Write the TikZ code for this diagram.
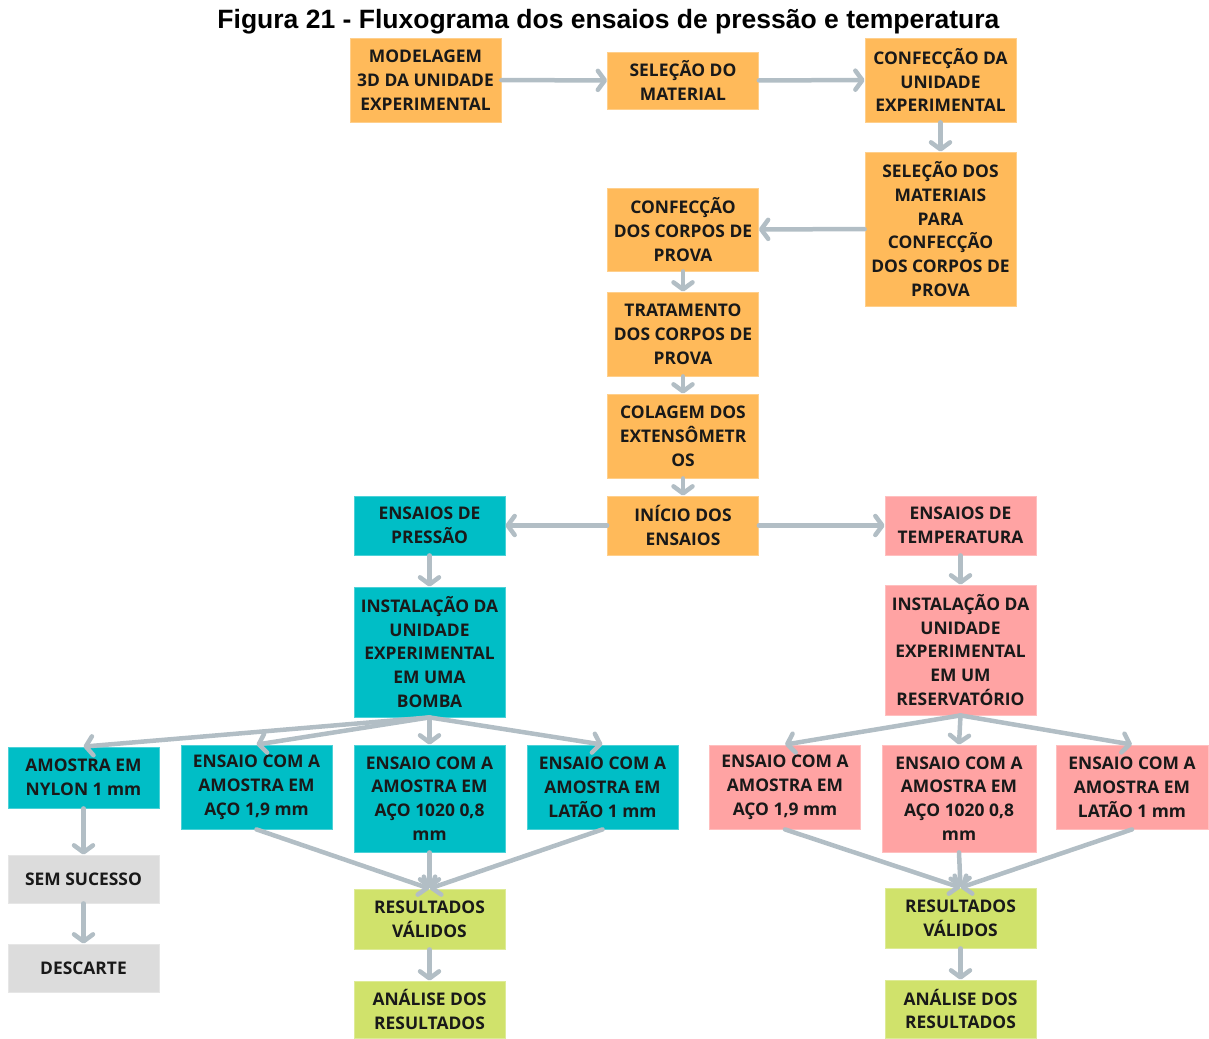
\documentclass[tikz,border=0pt]{standalone}
\usepackage{fontspec}
\usetikzlibrary{arrows.meta}
\newfontfamily\boxfont{Open Sans}
\newfontfamily\titlefont{Liberation Sans}
\definecolor{boxorange}{HTML}{FFBA5A}
\definecolor{boxteal}{HTML}{00BEC6}
\definecolor{boxpink}{HTML}{FFA3A3}
\definecolor{boxgreen}{HTML}{D0E26B}
\definecolor{boxgray}{HTML}{DCDCDC}
\definecolor{linkgray}{HTML}{B2BEC5}
\tikzset{
  stage/.style={rectangle, inner sep=0pt, align=center, minimum width=151pt,
    font=\boxfont\bfseries\fontsize{17.4}{23.8}\selectfont, text=black!90},
  orange/.style={stage, fill=boxorange, draw=boxorange!70!white, line width=0.8pt},
  teal/.style={stage, fill=boxteal, draw=boxteal!70!white, line width=0.8pt},
  pink/.style={stage, fill=boxpink, draw=boxpink!70!white, line width=0.8pt},
  green/.style={stage, fill=boxgreen, draw=boxgreen!70!white, line width=0.8pt},
  gray/.style={stage, fill=boxgray, draw=boxgray!70!white, line width=0.8pt},
  link/.style={draw=linkgray, line width=4.5pt, line cap=round,
    -{Straight Barb[length=7pt, width=19pt, line cap=round, line join=round]}},
}
\begin{document}
\begin{tikzpicture}[x=1pt, y=-1pt]
\useasboundingbox (0,0) rectangle (1209,1038);

\node[font=\titlefont\bfseries\fontsize{26.5}{30}\selectfont] (title) at (608.5,21.5)
  {Figura 21 - Fluxograma dos ensaios de pressão e temperatura};

% preparation chain
\node[orange, minimum height=84pt] (model) at (425.5,80) {MODELAGEM\\3D DA UNIDADE\\EXPERIMENTAL};
\node[orange, minimum height=57pt] (selmat) at (683,80.5) {SELEÇÃO DO\\MATERIAL};
\node[orange, minimum height=84pt] (confunid) at (940.5,80) {CONFECÇÃO DA\\UNIDADE\\EXPERIMENTAL};
\node[orange, minimum height=154pt] (selcp) at (940.5,229) {SELEÇÃO DOS\\MATERIAIS\\PARA\\CONFECÇÃO\\DOS CORPOS DE\\PROVA};
\node[orange, minimum height=83pt] (confcp) at (683,229.5) {CONFECÇÃO\\DOS CORPOS DE\\PROVA};
\node[orange, minimum height=84pt] (trat) at (683,334) {TRATAMENTO\\DOS CORPOS DE\\PROVA};
\node[orange, minimum height=84pt] (colag) at (683,436) {COLAGEM DOS\\EXTENSÔMETR\\OS};
\node[orange, minimum height=59pt] (inicio) at (683,525.5) {INÍCIO DOS\\ENSAIOS};

% pressure branch
\node[teal, minimum height=59pt] (press) at (429.5,525.5) {ENSAIOS DE\\PRESSÃO};
\node[teal, minimum height=130pt] (instp) at (429.5,652) {INSTALAÇÃO DA\\UNIDADE\\EXPERIMENTAL\\EM UMA\\BOMBA};
\node[teal, minimum height=61pt] (nylon) at (83.5,777.5) {AMOSTRA EM\\NYLON 1 mm};
\node[teal, minimum height=84pt] (pa) at (256.5,787) {ENSAIO COM A\\AMOSTRA EM\\AÇO 1,9 mm};
\node[teal, minimum height=107pt] (pb) at (429.5,798.5) {ENSAIO COM A\\AMOSTRA EM\\AÇO 1020 0,8\\mm};
\node[teal, minimum height=84pt] (pc) at (602.5,787) {ENSAIO COM A\\AMOSTRA EM\\LATÃO 1 mm};
\node[gray, minimum height=48pt] (semsuc) at (83.5,879) {SEM SUCESSO};
\node[gray, minimum height=48pt] (desc) at (83.5,968) {DESCARTE};
\node[green, minimum height=60pt] (resp) at (429.5,919) {RESULTADOS\\VÁLIDOS};
\node[green, minimum height=57pt] (anap) at (429.5,1009.5) {ANÁLISE DOS\\RESULTADOS};

% temperature branch
\node[pink, minimum height=59pt] (temp) at (960.5,525.5) {ENSAIOS DE\\TEMPERATURA};
\node[pink, minimum height=130pt] (instt) at (960.5,650) {INSTALAÇÃO DA\\UNIDADE\\EXPERIMENTAL\\EM UM\\RESERVATÓRIO};
\node[pink, minimum height=84pt] (ta) at (785,787) {ENSAIO COM A\\AMOSTRA EM\\AÇO 1,9 mm};
\node[pink, minimum height=107pt, minimum width=154pt] (tb) at (959,798.5) {ENSAIO COM A\\AMOSTRA EM\\AÇO 1020 0,8\\mm};
\node[pink, minimum height=84pt, minimum width=152pt] (tc) at (1132,787) {ENSAIO COM A\\AMOSTRA EM\\LATÃO 1 mm};
\node[green, minimum height=60pt] (rest) at (960.5,918) {RESULTADOS\\VÁLIDOS};
\node[green, minimum height=58pt] (anat) at (960.5,1009) {ANÁLISE DOS\\RESULTADOS};

% connectors
\draw[link] (model) -- (selmat);
\draw[link] (selmat) -- (confunid);
\draw[link] (confunid) -- (selcp);
\draw[link] (selcp) -- (confcp);
\draw[link] (confcp) -- (trat);
\draw[link] (trat) -- (colag);
\draw[link] (colag) -- (inicio);
\draw[link] (inicio) -- (press);
\draw[link] (inicio) -- (temp);
\draw[link] (press) -- (instp);
\draw[link] (temp) -- (instt);

\foreach \t in {nylon,pa,pb,pc} \draw[link] (instp.south) -- (\t.north);
\foreach \t in {ta,tb,tc} \draw[link] (instt.south) -- (\t.north);
\foreach \s in {pa,pb,pc} \draw[link] (\s.south) -- (resp.north);
\foreach \s in {ta,tb,tc} \draw[link] (\s.south) -- (rest.north);

\draw[link] (nylon) -- (semsuc);
\draw[link] (semsuc) -- (desc);
\draw[link] (resp) -- (anap);
\draw[link] (rest) -- (anat);
\end{tikzpicture}
\end{document}
